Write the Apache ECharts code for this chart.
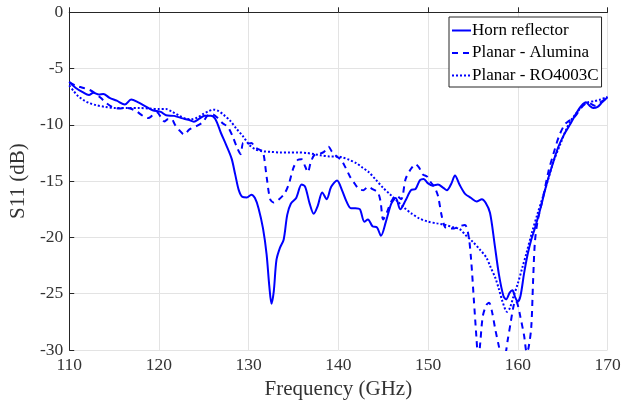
<!DOCTYPE html>
<html>
<head>
<meta charset="utf-8">
<script src="https://cdn.jsdelivr.net/npm/echarts@6/dist/echarts.min.js"></script>
<style>html,body{margin:0;padding:0;background:#fff;}#c{width:633px;height:405px;}</style>
</head>
<body>
<div id="c"></div>
<script>
const seriesNames = ["Horn reflector", "Planar - Alumina", "Planar - RO4003C"];
const xTicks = [110, 120, 130, 140, 150, 160, 170];
const yTicks = [-30, -25, -20, -15, -10, -5, 0];

const hornFreq = [110,110.7,111.5,112.2,112.7,113.3,113.8,114.5,115.3,116.2,116.9,117.7,118.5,119.3,120.2,120.8,121.7,122.5,123.3,123.9,124.5,125.1,125.8,126.3,126.9,127.5,128.1,128.5,128.9,129.3,129.8,130.3,130.7,131.1,131.6,132.0,132.3,132.55,132.8,133.1,133.5,133.9,134.3,134.7,135.3,135.9,136.3,136.8,137.25,137.7,138.2,138.7,139.2,139.85,140.4,140.9,141.4,141.9,142.4,142.9,143.3,143.8,144.3,144.75,145.3,145.9,146.4,146.9,147.5,148.1,148.6,149.1,149.5,150.0,150.5,151.1,151.7,152.1,152.6,153.0,153.5,154.1,154.8,155.4,156.0,156.4,156.9,157.4,157.9,158.4,158.7,159.1,159.4,159.7,160.0,160.3,160.7,161.1,161.5,161.9,162.5,163.2,163.8,164.5,165.2,165.8,166.5,167.1,167.6,168.0,168.4,168.9,169.4,170];
const hornS11 = [-6.2,-6.7,-7.1,-7.35,-7.15,-7.3,-7.25,-7.6,-7.85,-8.2,-7.75,-8.0,-8.35,-8.7,-8.85,-9.15,-9.2,-9.4,-9.55,-9.72,-9.45,-9.2,-9.2,-9.5,-10.7,-11.8,-13.0,-14.4,-15.8,-16.4,-16.45,-16.2,-16.5,-17.4,-19.2,-21.5,-24.3,-25.9,-24.8,-22.0,-20.9,-20.2,-18.0,-17.0,-16.5,-15.3,-15.5,-17.0,-17.9,-17.2,-16.0,-16.6,-15.5,-14.95,-15.8,-16.8,-17.4,-17.4,-17.5,-18.6,-18.4,-19.0,-19.1,-19.85,-18.6,-17.0,-16.5,-17.5,-16.7,-15.8,-15.7,-14.9,-14.8,-15.2,-15.4,-15.3,-15.6,-15.8,-15.2,-14.5,-15.3,-16.1,-16.5,-16.8,-16.6,-16.9,-17.8,-20.5,-23.3,-25.2,-25.5,-24.9,-24.7,-25.3,-25.7,-25.2,-23.2,-21.5,-20.2,-19.2,-17.5,-15.3,-13.7,-12.0,-10.8,-10.0,-9.0,-8.3,-8.0,-8.3,-8.5,-8.4,-8.0,-7.55];

const aluminaFreq = [110,110.7,111.5,112.3,112.9,113.5,114.2,114.9,115.6,116.2,116.8,117.5,118.2,118.8,119.3,119.8,120.2,120.6,121.0,121.4,121.8,122.3,122.8,123.4,124.2,124.9,125.4,125.9,126.5,127.1,127.7,128.2,128.7,129.1,129.4,129.8,130.3,130.7,131.2,131.6,132.0,132.4,132.8,133.4,134.0,134.5,135.0,135.5,135.9,136.3,136.6,136.9,137.3,137.8,138.4,138.9,139.3,139.8,140.3,140.8,141.3,141.8,142.3,142.8,143.3,143.8,144.4,144.7,145.0,145.4,145.9,146.5,147.0,147.5,148.1,148.6,149.0,149.4,149.9,150.3,150.7,151.1,151.5,151.9,152.4,152.9,153.5,154.1,154.5,154.8,155.1,155.4,155.6,155.8,156.1,156.5,156.8,157.1,157.5,157.9,158.3,158.6,158.9,159.2,159.5,159.75,160.0,160.3,160.7,161.0,161.2,161.5,161.7,161.9,162.2,162.8,163.4,164.0,164.6,165.2,165.6,166.2,166.8,167.4,168.0,168.6,169.2,170];
const aluminaS11 = [-6.2,-6.5,-6.7,-6.9,-7.2,-7.6,-8.1,-8.45,-8.55,-8.5,-8.55,-8.8,-9.2,-9.4,-9.15,-8.9,-9.3,-9.7,-9.5,-9.5,-10.0,-10.5,-10.85,-10.4,-10.1,-9.75,-9.2,-9.05,-9.35,-9.85,-10.2,-11.0,-12.0,-12.6,-11.6,-11.7,-11.6,-12.0,-12.2,-12.4,-14.6,-16.6,-16.9,-16.6,-16.1,-15.2,-13.8,-13.1,-13.05,-13.7,-14.2,-13.4,-12.7,-12.6,-12.4,-11.95,-12.4,-12.8,-13.1,-13.8,-14.6,-15.2,-15.7,-15.8,-15.5,-15.7,-16.0,-16.8,-18.4,-17.8,-16.8,-16.3,-16.6,-14.8,-13.9,-13.5,-13.8,-14.4,-14.6,-15.1,-15.5,-16.3,-18.0,-19.1,-19.2,-19.2,-19.0,-18.9,-19.8,-22.0,-25.5,-29.0,-31.0,-29.5,-27.0,-26.0,-25.8,-26.5,-28.2,-29.7,-31.2,-30.5,-29.0,-27.6,-26.2,-25.6,-26.0,-27.1,-28.7,-30.2,-29.8,-28.0,-24.0,-20.5,-18.6,-16.5,-14.2,-12.5,-11.0,-10.0,-9.7,-9.4,-8.8,-8.2,-8.1,-8.3,-8.0,-7.6];

const roFreq = [110,110.5,111.0,111.6,112.2,113.0,114.0,115.2,116.5,117.8,119.0,120.0,120.8,121.5,122.3,123.0,123.6,124.3,124.9,125.5,126.1,126.6,127.2,127.9,128.6,129.4,130.1,130.8,131.6,132.5,133.5,134.5,135.5,136.5,137.3,138.0,139.0,139.8,140.5,141.2,142.0,142.7,143.4,144.2,145.0,145.8,146.6,147.4,148.2,149.0,150.0,151.0,152.0,152.8,153.5,154.2,155.0,155.8,156.5,157.0,157.5,157.9,158.3,158.8,159.1,159.5,160.0,160.5,161.0,161.6,162.2,162.8,163.4,164.0,164.7,165.4,166.0,166.6,167.2,167.8,168.5,169.2,170];
const roS11 = [-6.5,-7.0,-7.45,-7.8,-8.05,-8.25,-8.4,-8.5,-8.5,-8.5,-8.55,-8.6,-8.6,-8.85,-9.2,-9.45,-9.5,-9.35,-9.05,-8.8,-8.65,-8.75,-9.1,-9.6,-10.3,-11.05,-11.8,-12.2,-12.35,-12.4,-12.45,-12.45,-12.45,-12.5,-12.6,-12.7,-12.8,-12.8,-12.9,-13.1,-13.4,-13.8,-14.2,-14.9,-15.6,-16.2,-16.8,-17.4,-17.9,-18.3,-18.6,-18.75,-18.9,-19.1,-19.25,-19.8,-20.4,-21.1,-21.8,-22.7,-23.6,-24.6,-25.7,-26.6,-26.3,-25.3,-24.1,-22.7,-21.3,-19.5,-17.9,-16.4,-14.8,-13.2,-11.8,-10.4,-9.5,-8.9,-8.3,-8.0,-7.9,-7.75,-7.5];

function pairs(xs, ys) { return xs.map((x, i) => [x, ys[i]]); }

const FONT = "'Liberation Serif', 'Times New Roman', serif";
const BLUE = '#0000ff';
const chart = echarts.init(document.getElementById('c'), null, { renderer: 'canvas' });

const lineTypes = ['solid', [6, 5], [2, 2]];
const datasets = [pairs(hornFreq, hornS11), pairs(aluminaFreq, aluminaS11), pairs(roFreq, roS11)];

chart.setOption({
  animation: false,
  backgroundColor: '#fff',
  grid: { left: 67.5, right: 25.5, top: 12.3, bottom: 52.7, containLabel: false },
  legend: {
    orient: 'vertical',
    left: 449, top: 17,
    backgroundColor: '#fff',
    borderColor: '#262626', borderWidth: 1,
    padding: [5, 3, 3, 2],
    itemWidth: 19, itemHeight: 14, itemGap: 5.5,
    itemStyle: { opacity: 0, borderWidth: 0 },
    textStyle: { fontFamily: FONT, fontSize: 17, color: '#000', padding: [0, 0, 0, -4] },
    data: seriesNames
  },
  xAxis: {
    type: 'value', min: 110, max: 170, interval: 10,
    name: 'Frequency (GHz)', nameLocation: 'middle', nameGap: 29,
    nameTextStyle: { fontFamily: FONT, fontSize: 21, color: '#333' },
    axisLine: { lineStyle: { color: '#262626', width: 1 } },
    axisTick: { inside: true, length: 5, lineStyle: { color: '#262626' } },
    axisLabel: { fontFamily: FONT, fontSize: 17.5, color: '#333', margin: 6,
      customValues: xTicks },
    splitLine: { show: true, lineStyle: { color: '#e3e3e3', width: 1 } }
  },
  yAxis: {
    type: 'value', min: -30, max: 0, interval: 5,
    name: 'S11 (dB)', nameLocation: 'middle', nameGap: 32, nameRotate: 90,
    nameTextStyle: { fontFamily: FONT, fontSize: 21, color: '#333' },
    axisLine: { show: true, lineStyle: { color: '#262626', width: 1 } },
    axisTick: { show: true, inside: true, length: 5, lineStyle: { color: '#262626' } },
    axisLabel: { fontFamily: FONT, fontSize: 17.5, color: '#333', margin: 6 },
    splitLine: { show: true, lineStyle: { color: '#e3e3e3', width: 1 } }
  },
  series: seriesNames.map((n, i) => ({
    name: n, type: 'line', data: datasets[i],
    showSymbol: false, symbol: 'none', smooth: 0.3, clip: true,
    lineStyle: { color: BLUE, width: 2, type: lineTypes[i] },
    itemStyle: { color: BLUE }
  }))
});
</script>
</body>
</html>
